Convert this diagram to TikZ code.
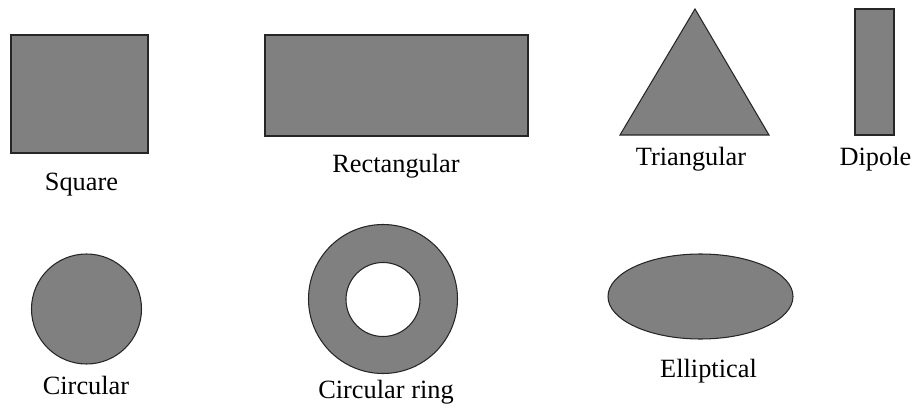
\documentclass[tikz,border=0pt]{standalone}
\usepackage{fontspec}
\setmainfont{Liberation Serif}

\begin{document}
\begin{tikzpicture}[x=0.02cm, y=-0.02cm,
		patch/.style = {fill=gray, draw=black!85, line width=0.6pt},
		caption/.style = {anchor=base, inner sep=0pt, font=\fontsize{15}{18}\selectfont}]
		\useasboundingbox (0,0) rectangle (914,409);
		
		% top row
		\draw[patch] (11,35) rectangle (148,153);
		\draw[patch] (265,35) rectangle (528,136);
		\draw[patch] (695,9) -- (769,135) -- (620,135) -- cycle;
		\draw[patch] (855,9) rectangle (894,135);
		
		% bottom row
		\draw[patch] (86.5,309) circle [radius=55];
		\draw[patch, even odd rule] (383,299) circle [radius=74.5] (383,299.5) circle [radius=37];
		\draw[patch] (700.5,296.5) ellipse [x radius=92.5, y radius=42.5];
		
		\node[caption] (square) at (81.5,190) {Square};
		\node[caption] (rect) at (396,172.5) {Rectangular};
		\node[caption] (tri) at (691,165) {Triangular};
		\node[caption] (dipole) at (875.5,165) {Dipole};
		\node[caption] (circ) at (86,394) {Circular};
		\node[caption] (ring) at (386,398) {Circular ring};
		\node[caption] (ellip) at (708.5,377) {Elliptical};
	\end{tikzpicture}
\end{document}
